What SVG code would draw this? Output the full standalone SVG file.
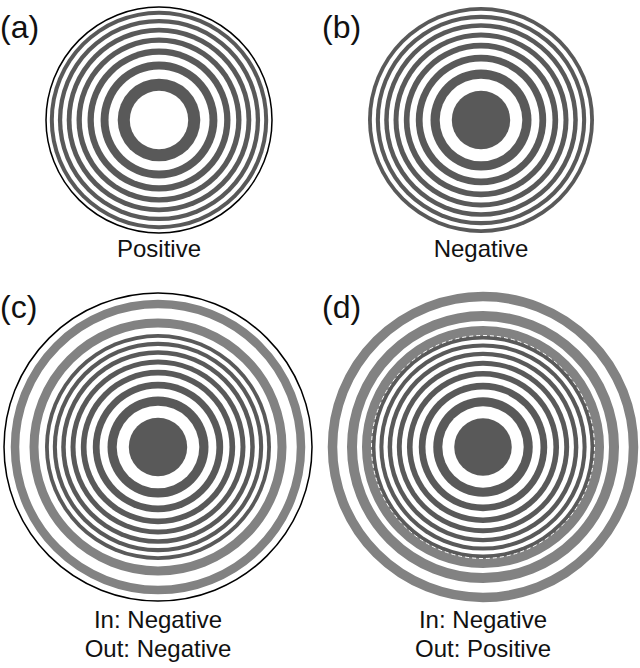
<svg xmlns="http://www.w3.org/2000/svg" xmlns:xlink="http://www.w3.org/1999/xlink" width="640" height="668" viewBox="0 0 640 668">
<style>
.d{fill:#595959}.w{fill:#fff}.g{fill:none;stroke:#828282}
text{font-family:"Liberation Sans",Arial,sans-serif;fill:#111}
.lb{font-size:32px}.cap{font-size:24px;text-anchor:middle}
</style>
<defs>
<g id="neg">
<circle r="113" class="d"/><circle r="109.2" class="w"/><circle r="105.2" class="d"/><circle r="101.1" class="w"/><circle r="96.8" class="d"/><circle r="92.3" class="w"/><circle r="87.5" class="d"/><circle r="82.5" class="w"/><circle r="77.2" class="d"/><circle r="71.5" class="w"/><circle r="65.2" class="d"/><circle r="58.4" class="w"/><circle r="50.5" class="d"/><circle r="41.3" class="w"/><circle r="29.2" class="d"/>
</g>
<g id="pos">
<circle r="113" class="w"/><circle r="109.2" class="d"/><circle r="105.2" class="w"/><circle r="101.1" class="d"/><circle r="96.8" class="w"/><circle r="92.3" class="d"/><circle r="87.5" class="w"/><circle r="82.5" class="d"/><circle r="77.2" class="w"/><circle r="71.5" class="d"/><circle r="65.2" class="w"/><circle r="58.4" class="d"/><circle r="50.5" class="w"/><circle r="41.3" class="d"/><circle r="29.2" class="w"/>
</g>
</defs>
<rect width="640" height="668" fill="#fff"/>
<g id="a">
<use xlink:href="#pos" transform="translate(159,120)"/>
<circle cx="159" cy="120" r="113" fill="none" stroke="#000" stroke-width="1.5"/>
<text x="0" y="38" class="lb">(a)</text>
<text x="159" y="257" class="cap">Positive</text>
</g>
<g id="b">
<use xlink:href="#neg" transform="translate(481,120)"/>
<text x="322" y="38" class="lb">(b)</text>
<text x="481" y="257" class="cap">Negative</text>
</g>
<g id="c">
<circle cx="158" cy="447" r="154" fill="none" stroke="#000" stroke-width="1.5"/>
<circle cx="158" cy="447" r="143" class="g" stroke-width="8.5"/>
<circle cx="158" cy="447" r="124" class="g" stroke-width="9"/>
<use xlink:href="#neg" transform="translate(158,447)"/>
<text x="0" y="318" class="lb">(c)</text>
<text x="158" y="628" class="cap">In: Negative</text>
<text x="158" y="657" class="cap">Out: Negative</text>
</g>
<g id="d">
<circle cx="483" cy="447" r="150.5" class="g" stroke-width="9.5"/>
<circle cx="483" cy="447" r="131" class="g" stroke-width="10"/>
<circle cx="483" cy="447" r="116" class="g" stroke-width="10"/>
<use xlink:href="#neg" transform="translate(483,447) scale(0.985)"/>
<circle cx="483" cy="447" r="111.5" fill="none" stroke="#fff" stroke-width="1" stroke-dasharray="4 3"/>
<text x="322" y="318" class="lb">(d)</text>
<text x="483" y="628" class="cap">In: Negative</text>
<text x="483" y="657" class="cap">Out: Positive</text>
</g>
</svg>
